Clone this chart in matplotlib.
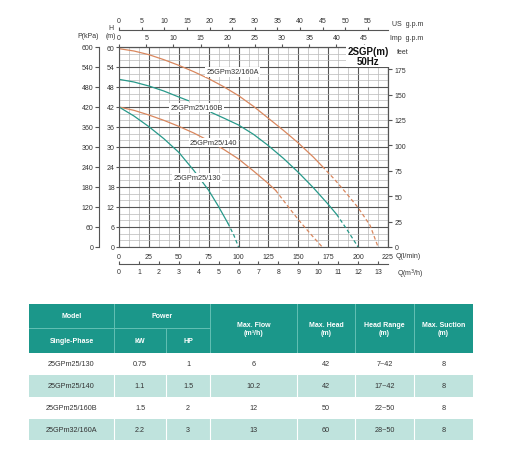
import numpy as np
import matplotlib
matplotlib.use("Agg")
import matplotlib.pyplot as plt
from matplotlib.ticker import MultipleLocator
from matplotlib.patches import Rectangle

plt.rcParams['font.family'] = ['Liberation Sans', 'DejaVu Sans']

# pump curves, Q in l/min, H in m (solid part, then dashed tail)
q_160a = [0, 12.5, 25, 37.5, 50, 62.5, 75, 87.5, 100, 112.5, 125, 137.5, 150, 162.5, 170]
h_160a = [59.5, 58.8, 57.7, 56.2, 54.5, 52.6, 50.5, 48.1, 45.4, 42.2, 38.6, 35.0, 31.2, 27.0, 24.2]
q_160a_d = [170, 180, 190, 200, 210, 216.7]
h_160a_d = [24.2, 20.4, 16.2, 11.8, 6.5, 0]

q_160b_a = [0, 12.5, 25, 37.5, 50, 58]
h_160b_a = [50.3, 49.5, 48.3, 46.8, 45.0, 43.9]
q_160b = [77, 87.5, 100, 112.5, 125, 137.5, 150, 162.5, 175, 182]
h_160b = [40.4, 38.7, 36.6, 33.8, 30.4, 26.6, 22.4, 17.8, 12.8, 9.8]
q_160b_d = [182, 190, 200]
h_160b_d = [9.8, 5.6, 0]

q_140 = [0, 12.5, 25, 37.5, 50, 62.5, 75, 87.5, 100, 112.5, 125, 131]
h_140 = [42, 41.0, 39.6, 38.0, 36.2, 34.2, 31.9, 29.3, 26.4, 22.8, 19.0, 17.0]
q_140_d = [131, 140, 150, 160, 170]
h_140_d = [17.0, 12.8, 8.2, 4.0, 0]

q_130 = [0, 12.5, 25, 37.5, 50, 62.5, 75, 82.5, 91]
h_130 = [42, 39.3, 36.1, 32.5, 28.4, 23.0, 17.0, 12.6, 7.2]
q_130_d = [91, 96, 100]
h_130_d = [7.2, 3.6, 0]

curve_labels = ['25GPm32/160A', '25GPm25/160B', '25GPm25/140', '25GPm25/130']
label_q = [95, 65, 79, 65.5]
label_h = [52.5, 41.9, 31.4, 20.9]

# table
models = ['25GPm25/130', '25GPm25/140', '25GPm25/160B', '25GPm32/160A']
kw = ['0.75', '1.1', '1.5', '2.2']
hp = ['1', '1.5', '2', '3']
max_flow = ['6', '10.2', '12', '13']
max_head = ['42', '42', '50', '60']
head_range = ['7~42', '17~42', '22~50', '28~50']
max_suction = ['8', '8', '8', '8']

ORANGE = '#d9875e'
TEAL = '#27998a'
TXT = '#333333'
HEAD = '#1b978a'
LIGHT = '#bfe3dd'

fig = plt.figure(figsize=(5.12, 4.6), dpi=100)

# pixel-space helper axes (table + loose labels)
pix = fig.add_axes([0, 0, 1, 1])
pix.set_xlim(0, 512)
pix.set_ylim(460, 0)
pix.set_axis_off()

ax = fig.add_axes([119 / 512, 1 - 248 / 460, 269 / 512, 200 / 460])
ax.set_xlim(0, 225)
ax.set_ylim(0, 60)
ax.xaxis.set_major_locator(MultipleLocator(25))
ax.xaxis.set_minor_locator(MultipleLocator(25 / 3))
ax.yaxis.set_major_locator(MultipleLocator(6))
ax.yaxis.set_minor_locator(MultipleLocator(2))
ax.grid(which='minor', color='#b8b8b8', lw=0.5)
ax.grid(which='major', color='#555555', lw=0.8)
ax.set_axisbelow(True)
ax.tick_params(which='minor', length=0)
ax.tick_params(axis='x', which='major', length=0, pad=4, labelsize=5, labelcolor=TXT)
ax.tick_params(axis='y', which='major', length=2, pad=1, labelsize=5, labelcolor=TXT, color='#555')
for s in ax.spines.values():
    s.set_color('#555555')
    s.set_linewidth(0.8)

kpa = ax.secondary_yaxis(-0.074, functions=(lambda h: h * 10, lambda p: p / 10))
kpa.set_yticks(np.arange(0, 601, 60))
kpa.tick_params(length=3, pad=1, labelsize=5, labelcolor=TXT, color='#555')

feet = ax.secondary_yaxis('right', functions=(lambda m: m / 0.3048, lambda f: f * 0.3048))
feet.set_yticks(range(0, 176, 25))
feet.tick_params(length=3, pad=2, labelsize=5, labelcolor=TXT, color='#555')

imp = ax.secondary_xaxis('top', functions=(lambda q: q * 0.219969, lambda g: g / 0.219969))
imp.set_xticks(range(0, 46, 5))
imp.tick_params(length=2.5, pad=1.5, labelsize=5, labelcolor=TXT, color='#555')

us = ax.secondary_xaxis(1.085, functions=(lambda q: q * 0.264172, lambda g: g / 0.264172))
us.set_xticks(range(0, 56, 5))
us.tick_params(length=2.5, pad=1.5, labelsize=5, labelcolor=TXT, color='#555')

m3h = ax.secondary_xaxis(-0.085, functions=(lambda q: q * 0.06, lambda v: v / 0.06))
m3h.set_xticks(range(0, 14))
m3h.tick_params(direction='in', length=2.5, pad=3, labelsize=5, labelcolor=TXT, color='#555')

for sec in (kpa, feet, imp, us, m3h):
    for s in sec.spines.values():
        s.set_color('#555555')
        s.set_linewidth(0.8)

dash = (0, (3, 2))
ax.plot(q_160a, h_160a, color=ORANGE, lw=0.9)
ax.plot(q_160a_d, h_160a_d, color=ORANGE, lw=0.9, ls=dash)
ax.plot(q_160b_a, h_160b_a, color=TEAL, lw=0.9)
ax.plot(q_160b, h_160b, color=TEAL, lw=0.9)
ax.plot(q_160b_d, h_160b_d, color=TEAL, lw=0.9, ls=dash)
ax.plot(q_140, h_140, color=ORANGE, lw=0.9)
ax.plot(q_140_d, h_140_d, color=ORANGE, lw=0.9, ls=dash)
ax.plot(q_130, h_130, color=TEAL, lw=0.9)
ax.plot(q_130_d, h_130_d, color=TEAL, lw=0.9, ls=dash)

for name, lq, lh in zip(curve_labels, label_q, label_h):
    ax.text(lq, lh, name, ha='center', va='center', fontsize=5.3, color=TXT,
            bbox=dict(fc='white', ec='none', pad=0.8), zorder=5)

ax.text(368, 57, '2SGP(m)\n50Hz', transform=pix.transData, ha='center', va='center',
        fontsize=7, fontweight='bold', color='#111', linespacing=0.95,
        bbox=dict(fc='white', ec='none', pad=1.2), zorder=6)

# axis captions
pix.text(88, 36, 'P(kPa)', ha='center', va='center', fontsize=5, color=TXT)
pix.text(111, 28, 'H', ha='center', va='center', fontsize=5, color=TXT)
pix.text(111, 36, '(m)', ha='center', va='center', fontsize=5, color=TXT)
pix.text(392, 24, 'US  g.p.m', ha='left', va='center', fontsize=5, color=TXT)
pix.text(390, 39, 'Imp  g.p.m', ha='left', va='center', fontsize=5, color=TXT)
pix.text(397, 52, 'feet', ha='left', va='center', fontsize=5, color=TXT)
pix.text(396, 256, 'Q(l/min)', ha='left', va='center', fontsize=5, color=TXT)
pix.text(397, 274, 'Q(m$^3$/h)', ha='left', va='center', fontsize=5, color=TXT)

# table
col_x = [29, 114, 166, 210, 297, 355, 414, 473]
row_y = [305, 329, 354, 376, 398, 420, 441]
pix.add_patch(Rectangle((col_x[0], row_y[0]), col_x[-1] - col_x[0], row_y[2] - row_y[0],
                        fc=HEAD, ec='none'))
for i in range(4):
    fc = LIGHT if i % 2 else 'white'
    pix.add_patch(Rectangle((col_x[0], row_y[2 + i]), col_x[-1] - col_x[0],
                            row_y[3 + i] - row_y[2 + i], fc=fc, ec='none'))

sep = '#63c0b4'
for x in [114, 210, 297, 355, 414]:
    pix.plot([x, x], [row_y[0], row_y[2]], color=sep, lw=0.7)
pix.plot([166, 166], [row_y[1], row_y[2]], color=sep, lw=0.7)
pix.plot([col_x[0], 210], [row_y[1], row_y[1]], color=sep, lw=0.7)
for x in col_x[1:-1]:
    pix.plot([x, x], [row_y[2], row_y[-1]], color='white', lw=0.8)

cx = [(a + b) / 2 for a, b in zip(col_x[:-1], col_x[1:])]
hk = dict(ha='center', va='center', fontsize=5, color='white', fontweight='bold')
pix.text(cx[0], 317, 'Model', **hk)
pix.text(cx[0], 341.5, 'Single-Phase', **hk)
pix.text((col_x[1] + col_x[3]) / 2, 317, 'Power', **hk)
pix.text(cx[1], 341.5, 'kW', **hk)
pix.text(cx[2], 341.5, 'HP', **hk)
pix.text(cx[3], 329.5, 'Max. Flow\n(m³/h)', **hk)
pix.text(cx[4], 329.5, 'Max. Head\n(m)', **hk)
pix.text(cx[5], 329.5, 'Head Range\n(m)', **hk)
pix.text(cx[6], 329.5, 'Max. Suction\n(m)', **hk)

columns = [models, kw, hp, max_flow, max_head, head_range, max_suction]
for j, col in enumerate(columns):
    for i, val in enumerate(col):
        yc = (row_y[2 + i] + row_y[3 + i]) / 2
        pix.text(cx[j], yc, val, ha='center', va='center', fontsize=5.2, color=TXT)

fig.savefig('out.png', dpi=100, facecolor='white')
